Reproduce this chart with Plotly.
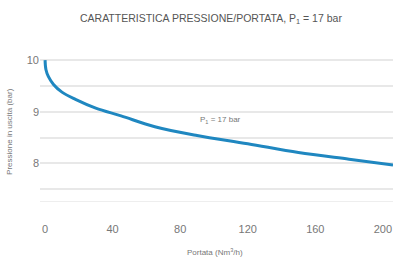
import plotly.graph_objects as go

portata = [0, 0.5, 2, 5, 10, 18, 30, 45, 65, 90, 120, 150, 180, 206]
pressione = [10.0, 9.82, 9.68, 9.53, 9.38, 9.24, 9.07, 8.92, 8.71, 8.54, 8.38, 8.21, 8.08, 7.97]

title_text = "CARATTERISTICA PRESSIONE/PORTATA, P<sub>1</sub> = 17 bar"
label_text = "P<sub>1</sub> = 17 bar"
x_title = "Portata (Nm<sup>3</sup>/h)"
y_title = "Pressione in uscita (bar)"
x_ticks = [0, 40, 80, 120, 160, 200]
y_ticks = [8, 9, 10]

fig = go.Figure()
fig.add_trace(go.Scatter(
    x=portata, y=pressione, mode="lines",
    line=dict(color="#1f87c0", width=3, shape="spline", smoothing=1.0),
    showlegend=False, hoverinfo="skip",
))
fig.add_annotation(x=104, y=8.84, text=label_text, showarrow=False,
                   font=dict(family="Liberation Sans", size=8, color="#777"))
fig.add_annotation(xref="paper", yref="paper", x=-0.085, y=0.48, text=y_title,
                   textangle=-90, showarrow=False, xanchor="center", yanchor="middle",
                   font=dict(family="Liberation Sans", size=8, color="#777"))
fig.add_annotation(xref="paper", yref="paper", x=0.496, y=-0.35, text=x_title,
                   showarrow=False, xanchor="center", yanchor="middle",
                   font=dict(family="Liberation Sans", size=8, color="#777"))

fig.update_layout(
    width=398, height=260,
    margin=dict(l=40, r=5, t=55, b=59, autoexpand=False),
    paper_bgcolor="white", plot_bgcolor="white",
    title=dict(text=title_text, x=0.53, xanchor="center", y=0.93, yanchor="middle",
               font=dict(family="Liberation Sans", size=10.5, color="#555")),
    font=dict(family="Liberation Sans", color="#777"),
)
fig.update_xaxes(
    range=[-3, 206], tickvals=x_ticks, showgrid=False, zeroline=False,
    showline=True, linecolor="#eeeeee", linewidth=1, automargin=False,
    ticks="", tickfont=dict(size=11, color="#777"), ticklabelstandoff=18,
)
fig.update_yaxes(
    range=[7.27, 10.1], tickvals=y_ticks, showgrid=True, gridcolor="#e8e8e8", gridwidth=1.5,
    minor=dict(dtick=0.5, tick0=0, showgrid=True, gridcolor="#e8e8e8", gridwidth=1.5),
    zeroline=False, ticks="", automargin=False, tickfont=dict(size=11, color="#777"),
)
fig.write_html("out.html", config={"displayModeBar": False},
               post_script="document.body.style.margin='0';")
